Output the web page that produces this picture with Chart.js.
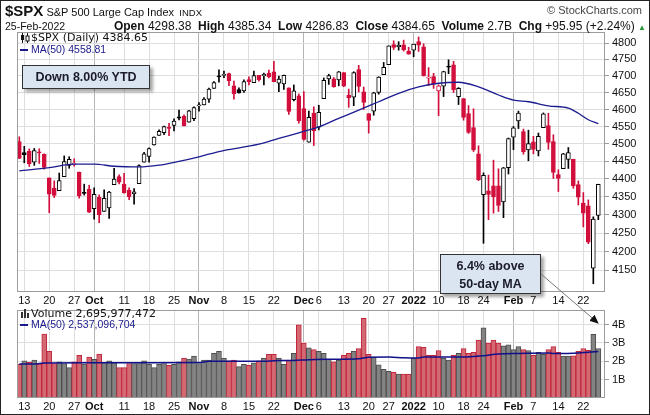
<!DOCTYPE html>
<html>
<head>
<meta charset="utf-8">
<script src="https://cdn.jsdelivr.net/npm/chart.js@4.4.1/dist/chart.umd.min.js"></script>
<style>
  body { margin: 0; background: #fff; }
  #wrap { position: relative; width: 650px; height: 415px; overflow: hidden; font-family: "Liberation Sans", Arial, sans-serif; color: #111; }
  #frame { position: absolute; left: 0; top: 0; width: 648px; height: 413px; border: 1px solid #222; }
  canvas { position: absolute; left: 0; }
  .txt { position: absolute; white-space: nowrap; }
  .leg { position: absolute; white-space: nowrap; font-family: "DejaVu Sans", sans-serif; font-size: 11px; color: #111; }
  .ma { font-family: "Liberation Sans", Arial, sans-serif; font-size: 10.5px; color: #1a1a8c; }
  .note { position: absolute; background: #dbe5f1; border: 1px solid #333; box-shadow: 3px 3px 3px rgba(0,0,0,0.35);
          font-weight: bold; font-size: 12.5px; color: #1b1b2b; text-align: center; }
</style>
</head>
<body>
<div id="wrap">
  <canvas id="price" width="650" height="306" style="top:0"></canvas>
  <canvas id="vol" width="650" height="114" style="top:300px"></canvas>

  <div class="txt" style="left:5px;top:2px;">
    <b style="font-size:15px">$SPX</b><span style="font-size:11px">&nbsp;S&amp;P 500 Large Cap Index</span><span style="font-size:9.5px">&nbsp;&nbsp;INDX</span>
  </div>
  <div class="txt" style="right:8px;top:4px;font-size:11px;color:#444">&copy; StockCharts.com</div>
  <div class="txt" style="left:5px;top:20px;font-size:10.5px">25-Feb-2022</div>
  <div class="txt" style="right:4px;top:19px;font-size:12px">
    <b>Open</b> 4298.38 &nbsp;<b>High</b> 4385.34 &nbsp;<b>Low</b> 4286.83 &nbsp;<b>Close</b> 4384.65 &nbsp;<b>Volume</b> 2.7B &nbsp;<b>Chg</b> +95.95 (+2.24%) <span style="color:#2a9a3a;font-size:8px">&#9650;</span>
  </div>

  <svg style="position:absolute;left:20px;top:33px" width="11" height="10">
    <line x1="2.5" y1="0" x2="2.5" y2="10" stroke="#111"/><rect x="1" y="2" width="3" height="5" fill="#111"/>
    <line x1="7.5" y1="0" x2="7.5" y2="10" stroke="#111"/><rect x="6" y="3" width="3" height="5" fill="#fff" stroke="#111"/>
  </svg>
  <div class="leg" style="left:31px;top:31px">$SPX (Daily) 4384.65</div>
  <div class="leg ma" style="left:20px;top:43px"><span style="display:inline-block;width:8px;height:2px;background:#1a1a8c;vertical-align:middle"></span> MA(50) 4558.81</div>

  <svg style="position:absolute;left:21px;top:309px" width="10" height="9">
    <rect x="0" y="3" width="2" height="6" fill="#333"/><rect x="3" y="0" width="2" height="9" fill="#333"/>
    <rect x="6" y="4" width="2" height="5" fill="#333"/>
  </svg>
  <div class="leg" style="left:31px;top:307px">Volume 2,695,977,472</div>
  <div class="leg ma" style="left:20px;top:318px"><span style="display:inline-block;width:8px;height:2px;background:#1a1a8c;vertical-align:middle"></span> MA(50) 2,537,096,704</div>

  <div class="note" style="left:22px;top:65px;width:126px;height:22px;line-height:22px">Down 8.00% YTD</div>
  <div class="note" style="left:440px;top:254px;width:101px;height:40px;line-height:18px;padding-top:2px;box-sizing:border-box">6.4% above<br>50-day MA</div>

  <svg style="position:absolute;left:0;top:0" width="650" height="415">
    <defs><marker id="ah" markerWidth="9" markerHeight="8" refX="8" refY="4" orient="auto" markerUnits="userSpaceOnUse">
      <path d="M0,0 L9,4 L0,8 z" fill="#111"/></marker></defs>
    <line x1="541" y1="274" x2="598" y2="323" stroke="#777" stroke-width="1" marker-end="url(#ah)"/>
  </svg>
  <div id="frame"></div>
</div>

<script>
// trading days shown, Sep 10 2021 .. Feb 25 2022
const dates = [
  '2021-09-10','2021-09-13','2021-09-14','2021-09-15','2021-09-16','2021-09-17','2021-09-20','2021-09-21','2021-09-22','2021-09-23',
  '2021-09-24','2021-09-27','2021-09-28','2021-09-29','2021-09-30','2021-10-01','2021-10-04','2021-10-05','2021-10-06','2021-10-07',
  '2021-10-08','2021-10-11','2021-10-12','2021-10-13','2021-10-14','2021-10-15','2021-10-18','2021-10-19','2021-10-20','2021-10-21',
  '2021-10-22','2021-10-25','2021-10-26','2021-10-27','2021-10-28','2021-10-29','2021-11-01','2021-11-02','2021-11-03','2021-11-04',
  '2021-11-05','2021-11-08','2021-11-09','2021-11-10','2021-11-11','2021-11-12','2021-11-15','2021-11-16','2021-11-17','2021-11-18',
  '2021-11-19','2021-11-22','2021-11-23','2021-11-24','2021-11-26','2021-11-29','2021-11-30','2021-12-01','2021-12-02','2021-12-03',
  '2021-12-06','2021-12-07','2021-12-08','2021-12-09','2021-12-10','2021-12-13','2021-12-14','2021-12-15','2021-12-16','2021-12-17',
  '2021-12-20','2021-12-21','2021-12-22','2021-12-23','2021-12-27','2021-12-28','2021-12-29','2021-12-30','2021-12-31','2022-01-03',
  '2022-01-04','2022-01-05','2022-01-06','2022-01-07','2022-01-10','2022-01-11','2022-01-12','2022-01-13','2022-01-14','2022-01-18',
  '2022-01-19','2022-01-20','2022-01-21','2022-01-24','2022-01-25','2022-01-26','2022-01-27','2022-01-28','2022-01-31','2022-02-01',
  '2022-02-02','2022-02-03','2022-02-04','2022-02-07','2022-02-08','2022-02-09','2022-02-10','2022-02-11','2022-02-14','2022-02-15',
  '2022-02-16','2022-02-17','2022-02-18','2022-02-22','2022-02-23','2022-02-24','2022-02-25'
];

const open = [
  4506.92,4474.81,4479.33,4447.49,4477.09,4469.74,4402.95,4374.45,4367.43,4406.75,
  4438.04,4442.12,4419.54,4362.41,4370.67,4317.16,4348.84,4309.87,4319.57,4383.73,
  4406.51,4385.44,4368.31,4358.01,4386.75,4447.69,4463.72,4497.34,4524.42,4532.24,
  4546.12,4553.69,4578.69,4580.22,4562.84,4572.87,4610.62,4613.34,4630.65,4662.93,
  4699.26,4701.48,4707.25,4670.26,4659.39,4655.24,4689.30,4679.42,4701.50,4700.72,
  4708.44,4712.00,4678.48,4675.78,4664.63,4628.75,4640.25,4602.82,4504.73,4589.49,
  4548.37,4631.97,4690.86,4691.00,4687.64,4710.30,4642.99,4636.46,4719.13,4652.50,
  4587.90,4594.96,4650.36,4703.96,4733.99,4795.49,4788.64,4794.23,4775.21,4778.14,
  4804.51,4787.99,4693.39,4697.66,4655.34,4669.14,4728.59,4733.56,4637.99,4632.24,
  4588.03,4547.35,4471.38,4356.32,4366.64,4380.58,4380.58,4336.19,4431.79,4519.57,
  4566.39,4535.41,4482.79,4505.75,4480.02,4547.00,4553.24,4506.27,4412.61,4429.28,
  4455.75,4456.06,4384.57,4332.74,4324.93,4155.77,4298.38
];
const high = [
  4520.47,4492.99,4485.68,4486.87,4485.87,4471.52,4402.95,4394.87,4416.75,4465.40,
  4463.12,4457.30,4419.54,4385.57,4382.55,4375.19,4355.51,4369.23,4365.57,4429.97,
  4412.02,4415.88,4374.89,4372.87,4439.73,4475.82,4488.75,4520.40,4540.87,4551.44,
  4559.67,4572.62,4598.53,4584.57,4597.55,4608.08,4620.34,4635.15,4663.46,4683.00,
  4718.50,4714.92,4708.53,4684.85,4664.55,4688.47,4697.42,4714.95,4701.50,4708.80,
  4717.75,4743.83,4699.39,4702.87,4664.63,4672.95,4646.02,4652.94,4595.46,4608.03,
  4612.60,4694.04,4705.06,4695.26,4713.57,4710.30,4660.47,4712.60,4731.99,4666.70,
  4587.90,4651.14,4697.67,4740.74,4791.49,4807.02,4804.06,4808.93,4786.83,4796.64,
  4818.62,4797.70,4725.01,4707.95,4673.02,4714.13,4748.83,4744.13,4665.13,4632.24,
  4611.55,4602.11,4494.52,4417.35,4411.01,4453.23,4428.74,4432.72,4516.89,4550.49,
  4595.31,4542.88,4539.66,4521.86,4531.32,4590.03,4588.92,4526.33,4426.22,4472.77,
  4489.55,4456.06,4394.60,4362.12,4341.51,4294.73,4385.34
];
const low = [
  4457.66,4445.70,4435.46,4438.37,4443.80,4427.76,4305.91,4347.96,4367.43,4406.75,
  4430.27,4436.19,4346.33,4355.08,4306.24,4288.52,4278.94,4309.87,4290.49,4383.73,
  4386.22,4360.59,4342.09,4329.92,4386.75,4447.69,4447.47,4496.41,4524.40,4526.89,
  4524.00,4537.36,4569.17,4551.66,4562.84,4567.59,4595.06,4613.34,4621.19,4662.59,
  4681.32,4694.39,4670.87,4630.86,4648.31,4650.77,4672.86,4679.42,4684.41,4672.78,
  4694.22,4682.17,4652.66,4659.89,4585.43,4625.26,4560.00,4510.27,4504.73,4495.12,
  4540.51,4631.97,4674.52,4665.98,4670.24,4667.60,4606.52,4611.22,4651.89,4600.22,
  4531.10,4583.16,4645.53,4703.96,4733.99,4780.04,4778.08,4775.33,4765.75,4758.17,
  4774.27,4699.44,4671.26,4662.74,4582.24,4638.27,4706.71,4650.29,4614.75,4568.70,
  4530.20,4477.95,4395.34,4222.62,4287.11,4304.80,4309.50,4292.46,4414.02,4483.53,
  4544.32,4470.39,4451.50,4471.47,4465.40,4547.00,4484.31,4401.41,4364.84,4429.28,
  4429.68,4373.81,4327.22,4267.11,4221.51,4114.65,4286.83
];
const close = [
  4458.58,4468.73,4443.05,4480.70,4473.75,4432.99,4357.73,4354.19,4395.64,4448.98,
  4455.48,4443.11,4352.63,4359.46,4307.54,4357.04,4300.46,4345.72,4363.55,4399.76,
  4391.34,4361.19,4350.65,4363.80,4438.26,4471.37,4486.46,4519.63,4536.19,4549.78,
  4544.90,4566.48,4574.79,4551.68,4596.42,4605.38,4613.67,4630.65,4660.57,4680.06,
  4697.53,4701.70,4685.25,4646.71,4649.27,4682.85,4682.80,4700.90,4688.67,4704.54,
  4697.96,4682.94,4690.70,4701.46,4594.62,4655.27,4567.00,4513.04,4577.10,4538.43,
  4591.67,4686.75,4701.21,4667.45,4712.02,4668.97,4634.09,4709.85,4668.67,4620.64,
  4568.02,4649.23,4696.56,4725.79,4791.19,4786.35,4793.06,4778.73,4766.18,4796.56,
  4793.54,4700.58,4696.05,4677.03,4670.29,4713.07,4726.35,4659.03,4662.85,4577.11,
  4532.76,4482.73,4397.94,4410.13,4356.45,4349.93,4326.51,4431.85,4515.55,4546.54,
  4589.38,4477.44,4500.53,4483.87,4521.54,4587.18,4504.08,4418.64,4401.67,4471.07,
  4475.01,4380.26,4348.87,4304.76,4225.50,4288.70,4384.65
];
// volume, billions of shares
const volume = [
  1.85,2.02,1.95,2.07,1.86,3.49,2.54,1.88,1.97,1.88,
  1.66,1.97,2.33,1.85,2.23,2.11,2.40,1.95,2.02,1.93,
  1.66,1.66,1.88,1.88,1.88,2.02,1.83,1.66,1.83,1.88,
  1.78,1.83,1.97,2.17,2.12,2.28,1.88,2.07,2.07,2.43,
  2.54,2.17,2.02,2.07,1.71,1.83,1.78,1.92,2.02,2.17,
  2.38,2.38,2.17,1.83,2.07,2.43,3.99,3.00,2.74,2.64,
  2.54,2.43,2.11,1.97,2.07,2.33,2.43,2.54,2.69,4.35,
  2.38,2.23,1.81,1.57,1.45,1.40,1.31,1.31,1.31,2.17,
  2.80,2.76,2.33,2.33,2.59,2.17,2.07,2.33,2.43,2.69,
  2.43,2.49,3.16,3.83,3.00,3.16,3.00,2.85,2.90,2.64,
  2.80,2.64,2.59,2.33,2.49,2.38,2.64,2.80,2.49,2.28,
  2.28,2.30,2.55,2.70,2.60,3.47,2.70
];

// 50-day moving averages (day index -> value)
const priceMaDay = [0, 6, 11, 15, 19, 24, 28, 32, 36, 40, 48, 52, 56, 60, 64, 68, 72, 76, 80, 84, 88, 92, 96, 99, 102, 106, 110, 112, 114, 116];
const priceMa = [4423, 4432, 4442, 4442, 4436, 4434, 4439, 4450, 4463, 4478, 4499, 4516, 4532, 4549, 4574, 4598, 4623, 4648, 4667, 4678, 4681, 4667, 4643, 4628, 4623, 4611, 4604, 4589, 4570, 4558.81];
const volMaDay = [0, 3, 5, 15, 28, 36, 38, 48, 52, 55, 58, 62, 68, 70, 74, 77, 80, 81, 88, 91, 93, 96, 100, 106, 107, 112, 114, 116];
const volMa = [1.85, 1.85, 1.91, 1.92, 1.92, 1.93, 2.00, 2.00, 2.04, 2.05, 2.09, 2.11, 2.14, 2.22, 2.23, 2.19, 2.18, 2.23, 2.23, 2.26, 2.31, 2.40, 2.43, 2.45, 2.42, 2.45, 2.50, 2.537];

// axis labels
const tickDates = ['2021-09-13','2021-09-20','2021-09-27','2021-10-01','2021-10-11','2021-10-18','2021-10-25','2021-11-01','2021-11-08',
  '2021-11-15','2021-11-22','2021-12-01','2021-12-06','2021-12-13','2021-12-20','2021-12-27','2022-01-03','2022-01-10','2022-01-18',
  '2022-01-24','2022-02-01','2022-02-07','2022-02-14','2022-02-22'];
const tickText = ['13','20','27','Oct','11','18','25','Nov','8','15','22','Dec','6','13','20','27','2022','10','18','24','Feb','7','14','22'];
const monthText = ['Oct','Nov','Dec','2022','Feb'];
const priceTicks = [4150,4200,4250,4300,4350,4400,4450,4500,4550,4600,4650,4700,4750,4800];
const volTicks = [1, 2, 3, 4];

const tickIdx = tickDates.map(d => dates.indexOf(d));
const RED = '#d20f3c';

function isUp(i) {
  const prev = i > 0 ? close[i - 1] : open[i];
  return close[i] >= prev;
}

function isMonthTick(tick) {
  return !!tick && monthText.includes(tickText[tickIdx.indexOf(tick.value)]);
}

const panelFrame = {
  id: 'panelFrame',
  afterDraw(chart) {
    const a = chart.chartArea;
    const c = chart.ctx;
    c.save();
    c.strokeStyle = '#9c9c9c';
    c.lineWidth = 1;
    c.strokeRect(Math.round(a.left) + 0.5, Math.round(a.top) + 0.5, Math.round(a.right - a.left) - 1, Math.round(a.bottom - a.top) - 1);
    c.restore();
  }
};

function xAxis(h) {
  return {
    type: 'linear',
    offset: false,
    min: -0.46,
    max: 117.34,
    afterBuildTicks: s => { s.ticks = tickIdx.map(v => ({ value: v })); },
    afterFit: s => { s.height = h; },
    border: { display: false },
    grid: {
      offset: false,
      drawTicks: false,
      color: ctx => isMonthTick(ctx.tick) ? '#b4b4b4' : '#dedede'
    },
    ticks: {
      autoSkip: false,
      maxRotation: 0,
      padding: 2,
      color: '#111',
      callback: v => tickText[tickIdx.indexOf(v)],
      font: ctx => ({ family: 'Liberation Sans', size: 11, weight: isMonthTick(ctx.tick) ? 'bold' : 'normal' })
    }
  };
}

const idx = dates.map((d, i) => i);

new Chart(document.getElementById('price'), {
  type: 'bar',
  data: {
    datasets: [
      {
        type: 'line',
        order: 0,
        data: priceMaDay.map((d, k) => ({ x: d, y: priceMa[k] })),
        borderColor: '#1c1c90',
        borderWidth: 1.3,
        pointRadius: 0,
        cubicInterpolationMode: 'monotone'
      },
      {
        order: 1,
        grouped: false,
        barThickness: 4,
        minBarLength: 1,
        borderWidth: 1,
        borderSkipped: false,
        data: idx.map(i => ({ x: i, y: [open[i], close[i]] })),
        backgroundColor: idx.map(i => close[i] > open[i] ? '#ffffff' : (isUp(i) ? '#000' : RED)),
        borderColor: idx.map(i => isUp(i) ? '#000' : RED)
      },
      {
        order: 2,
        grouped: false,
        barThickness: 1,
        borderWidth: 0,
        data: idx.map(i => ({ x: i, y: [low[i], high[i]] })),
        backgroundColor: idx.map(i => isUp(i) ? '#000' : RED)
      }
    ]
  },
  options: {
    responsive: false,
    animation: false,
    layout: { padding: { left: 17, top: 32, right: 0, bottom: 0 } },
    plugins: { legend: { display: false }, tooltip: { enabled: false } },
    scales: {
      x: xAxis(14),
      y: {
        type: 'logarithmic',
        position: 'right',
        min: 4093,
        max: 4834,
        bounds: 'data',
        afterBuildTicks: s => { s.ticks = priceTicks.map(v => ({ value: v })); },
        afterFit: s => { s.width = 45; },
        border: { display: false },
        grid: { color: '#dedede', tickLength: 4, tickColor: '#999' },
        ticks: { padding: 3, color: '#111', font: { family: 'Liberation Sans', size: 11 }, callback: v => String(v) }
      }
    }
  },
  plugins: [panelFrame]
});

new Chart(document.getElementById('vol'), {
  type: 'bar',
  data: {
    datasets: [
      {
        type: 'line',
        order: 0,
        data: volMaDay.map((d, k) => ({ x: d, y: volMa[k] })),
        borderColor: '#10108a',
        borderWidth: 1.5,
        pointRadius: 0,
        cubicInterpolationMode: 'monotone'
      },
      {
        order: 1,
        grouped: false,
        barThickness: 5,
        borderWidth: 1,
        borderSkipped: 'bottom',
        data: idx.map(i => ({ x: i, y: volume[i] })),
        backgroundColor: idx.map(i => isUp(i) ? '#838383' : '#d36a73'),
        borderColor: idx.map(i => isUp(i) ? '#4e4e4e' : '#c2263d')
      }
    ]
  },
  options: {
    responsive: false,
    animation: false,
    layout: { padding: { left: 17, top: 5, right: 0, bottom: 0 } },
    plugins: { legend: { display: false }, tooltip: { enabled: false } },
    scales: {
      x: xAxis(16),
      y: {
        position: 'right',
        min: 0,
        max: 4.82,
        afterBuildTicks: s => { s.ticks = volTicks.map(v => ({ value: v })); },
        afterFit: s => { s.width = 45; },
        border: { display: false },
        grid: { color: '#dedede', tickLength: 4, tickColor: '#999' },
        ticks: { padding: 3, color: '#111', font: { family: 'Liberation Sans', size: 11 }, callback: v => v + 'B' }
      }
    }
  },
  plugins: [panelFrame]
});
</script>
</body>
</html>
